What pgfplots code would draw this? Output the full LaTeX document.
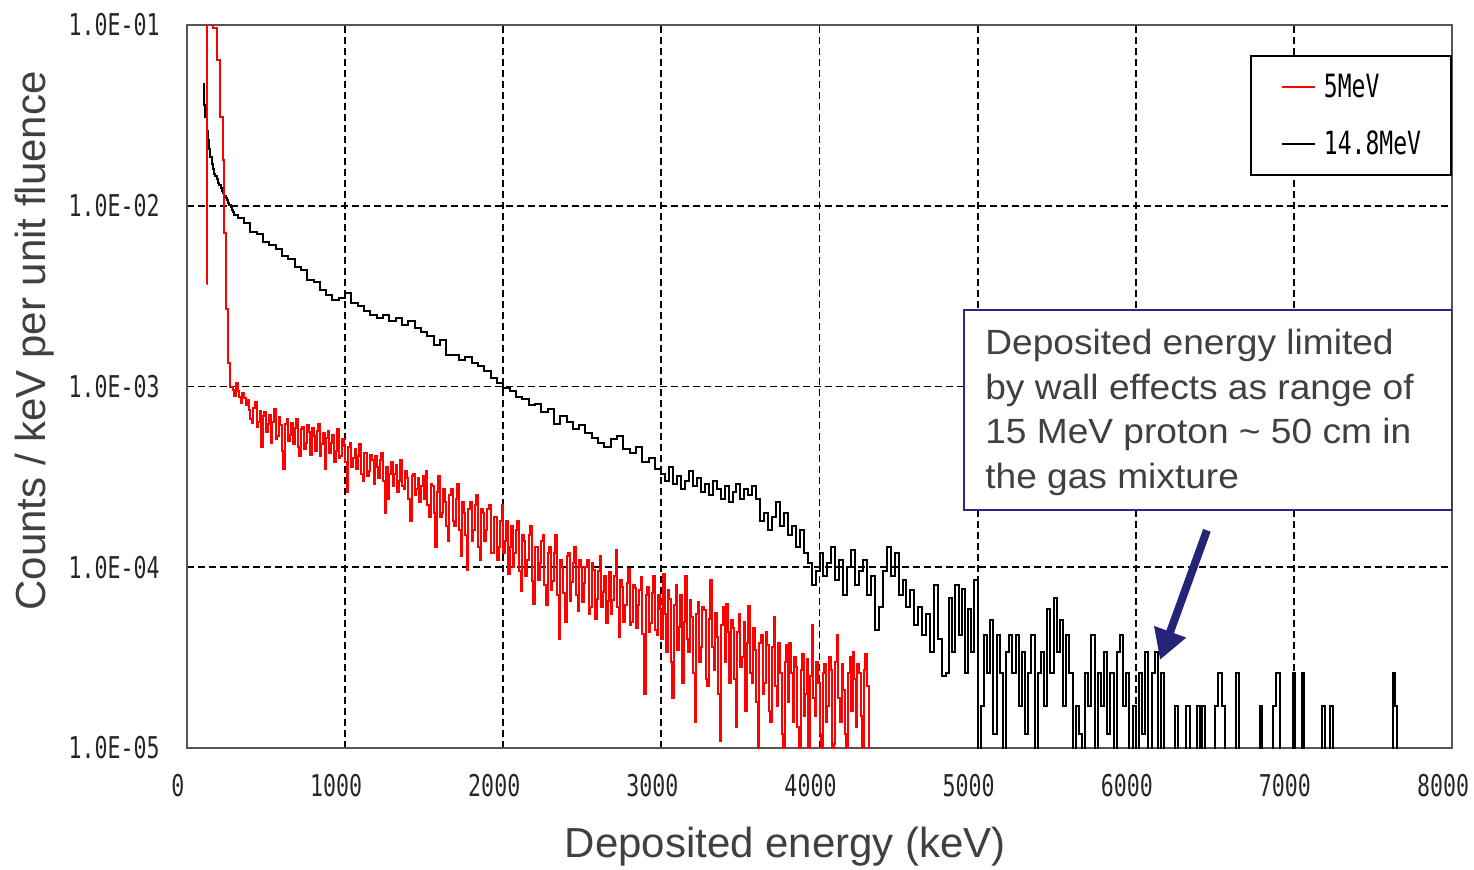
\documentclass[border=0pt]{standalone}
\usepackage{fontspec}
\setmainfont{Liberation Sans}
\newfontfamily\tickfont[FakeStretch=0.72]{DejaVu Sans Mono}
\newfontfamily\notefont[FakeStretch=1.06]{Liberation Sans}
\usepackage{pgfplots}
\usepackage{pgfplotstable}
\pgfplotsset{compat=1.18}
\usetikzlibrary{arrows.meta}

\definecolor{labelgray}{RGB}{64,64,64}
\definecolor{notenavy}{RGB}{40,40,128}
\definecolor{arrownavy}{RGB}{38,36,120}
\definecolor{framegray}{RGB}{85,85,85}

% 14.8 MeV spectrum (1e-7 = empty bin, drawn to the floor)
\pgfplotstableread{
x y
101 0.047
108 0.036
116 0.031
124 0.026
132 0.023
140 0.0205
148 0.0185
156 0.0170
164 0.0160
172 0.0150
180 0.0146
188 0.0140
196 0.0134
204 0.0131
212 0.0126
220 0.0121
228 0.0117
236 0.0113
244 0.0110
252 0.0107
260 0.0104
268 0.0101
276 0.0098
284 0.0095
292 0.0092
300 0.0089
320 0.0086
360 0.0080
400 0.0072
440 0.0070
480 0.0063
520 0.0061
560 0.0058
600 0.0053
640 0.0051
680 0.0046
720 0.0044
760 0.0039
800 0.0038
840 0.0034
880 0.0032
920 0.0030
960 0.0031
1000 0.0033
1040 0.0029
1080 0.0028
1120 0.0026
1160 0.0025
1200 0.0024
1240 0.0025
1280 0.0023
1320 0.0024
1360 0.0022
1400 0.0023
1440 0.0021
1480 0.0020
1520 0.0019
1560 0.0017
1600 0.0018
1640 0.0015
1680 0.0015
1720 0.0014
1760 0.00145
1800 0.00135
1840 0.0013
1880 0.00122
1920 0.00112
1960 0.00105
2000 0.00098
2040 0.00094
2080 0.00088
2120 0.00085
2160 0.00079
2200 0.00080
2240 0.00072
2280 0.00075
2320 0.00062
2360 0.00069
2400 0.00064
2440 0.00058
2480 0.00061
2520 0.00055
2560 0.00052
2600 0.00049
2640 0.00046
2680 0.00051
2720 0.00053
2760 0.00045
2800 0.00043
2840 0.00046
2880 0.00038
2920 0.00040
2960 0.00035
3000 0.00033
3025 0.00030
3050 0.00036
3075 0.00029
3100 0.00032
3125 0.00027
3150 0.00030
3175 0.00034
3200 0.00028
3225 0.00031
3250 0.00026
3275 0.00029
3300 0.00025
3325 0.00030
3350 0.00027
3375 0.00024
3400 0.00028
3425 0.00023
3450 0.00026
3475 0.00029
3500 0.00024
3525 0.00027
3550 0.00025
3575 0.00028
3600 0.00024
3625 0.00018
3650 0.00020
3675 0.00016
3700 0.00019
3725 0.00023
3750 0.00017
3775 0.00020
3800 0.00015
3825 0.00017
3850 0.00013
3875 0.00016
3900 0.00012
3925 0.000105
3950 0.00008
3975 0.000095
4000 0.00012
4025 0.00009
4050 0.000105
4075 0.00013
4100 0.000085
4125 0.00011
4150 0.00007
4175 0.00010
4200 0.000125
4225 0.00008
4250 0.000095
4275 0.00011
4300 0.00007
4325 0.00009
4350 0.000045
4375 0.00006
4400 0.000095
4425 0.00013
4450 0.00009
4475 0.00012
4500 0.00007
4525 0.000085
4550 0.00006
4575 0.000075
4600 0.000048
4625 0.00006
4650 0.000042
4675 0.000055
4700 0.000034
4725 0.00008
4750 0.00004
4775 0.000025
4800 2.6e-5
4820 6.8e-5
4840 3.4e-5
4860 8.0e-5
4880 4.2e-5
4900 7.6e-5
4920 2.6e-5
4940 5.9e-5
4960 3.4e-5
4980 8.5e-5
5000 1e-7
5020 1.7e-5
5040 4.2e-5
5060 2.6e-5
5080 5.1e-5
5100 1.2e-5
5120 4.2e-5
5140 2.6e-5
5160 1e-7
5180 3.4e-5
5200 4.2e-5
5220 2.6e-5
5240 4.2e-5
5260 1.7e-5
5280 3.4e-5
5300 1.2e-5
5320 2.6e-5
5340 4.2e-5
5360 1e-7
5380 2.6e-5
5400 3.4e-5
5420 1.7e-5
5440 5.9e-5
5460 2.6e-5
5480 6.8e-5
5500 3.4e-5
5520 5.1e-5
5540 1.7e-5
5560 4.2e-5
5580 2.6e-5
5600 1e-7
5620 1.7e-5
5640 1.2e-5
5660 1e-7
5680 2.6e-5
5700 1.7e-5
5720 4.2e-5
5740 1e-7
5760 2.6e-5
5780 1.7e-5
5800 3.4e-5
5820 1.2e-5
5840 2.6e-5
5860 1e-7
5880 3.4e-5
5900 4.2e-5
5920 1.7e-5
5940 2.6e-5
5960 1e-7
5980 1.7e-5
6000 1e-7
6020 2.6e-5
6040 1.2e-5
6060 3.4e-5
6080 1e-7
6100 2.6e-5
6120 3.4e-5
6140 1e-7
6160 2.6e-5
6180 1e-7
6250 1.7e-5
6270 1e-7
6320 1.7e-5
6345 1e-7
6390 1.7e-5
6405 1e-7
6420 1.7e-5
6435 1e-7
6500 1.7e-5
6520 2.6e-5
6545 1.7e-5
6565 1e-7
6635 2.6e-5
6650 1e-7
6785 1.7e-5
6800 1e-7
6870 1.7e-5
6890 2.6e-5
6910 1e-7
6995 2.6e-5
7010 1e-7
7050 2.6e-5
7065 1e-7
7180 1.7e-5
7195 1e-7
7230 1.7e-5
7250 1e-7
7625 2.6e-5
7640 1.7e-5
7655 1e-7
}\blackdata

% 5 MeV spectrum, 10 keV bins above 290 keV
\pgfplotstableread{
x y
124 0.0037
125 0.5
166 0.096
188 0.064
209 0.031
226 0.018
236 0.0071
247 0.0027
261 0.00135
272 0.00100
290 9.6e-4
300 8.9e-4
310 1.05e-3
320 9.4e-4
330 8.8e-4
340 8.1e-4
350 9.2e-4
360 8.6e-4
370 7.9e-4
380 8.4e-4
390 7.4e-4
400 6.6e-4
410 6.3e-4
420 7.6e-4
430 8.2e-4
440 6.0e-4
450 6.4e-4
460 7.3e-4
470 4.6e-4
480 6.9e-4
490 7.2e-4
500 5.6e-4
510 6.2e-4
520 7.0e-4
530 4.9e-4
540 6.4e-4
550 7.5e-4
560 5.1e-4
570 5.3e-4
580 6.8e-4
590 6.1e-4
600 4.4e-4
610 3.5e-4
620 6.2e-4
630 6.6e-4
640 5.0e-4
650 5.4e-4
660 6.3e-4
670 4.8e-4
680 5.9e-4
690 6.6e-4
700 4.6e-4
710 4.1e-4
720 5.8e-4
730 6.0e-4
740 4.5e-4
750 4.9e-4
760 6.1e-4
770 5.6e-4
780 4.2e-4
790 5.9e-4
800 5.3e-4
810 4.4e-4
820 5.7e-4
830 6.2e-4
840 4.1e-4
850 4.8e-4
860 5.5e-4
870 3.5e-4
880 5.2e-4
890 5.7e-4
900 4.3e-4
910 4.9e-4
920 5.4e-4
930 3.8e-4
940 4.4e-4
950 5.8e-4
960 4.0e-4
970 4.1e-4
980 5.1e-4
990 4.7e-4
1000 3.8e-4
1010 2.6e-4
1020 4.6e-4
1030 4.9e-4
1040 3.6e-4
1050 4.0e-4
1060 4.5e-4
1070 3.5e-4
1080 4.1e-4
1090 4.8e-4
1100 3.3e-4
1110 3.0e-4
1120 4.3e-4
1130 4.3e-4
1140 3.2e-4
1150 3.4e-4
1160 4.2e-4
1170 3.9e-4
1180 2.9e-4
1190 4.1e-4
1200 3.6e-4
1210 3.1e-4
1220 3.9e-4
1230 4.3e-4
1240 3.0e-4
1250 2.0e-4
1260 3.6e-4
1270 2.4e-4
1280 3.3e-4
1290 3.8e-4
1300 2.8e-4
1310 3.3e-4
1320 3.7e-4
1330 2.6e-4
1340 3.0e-4
1350 3.9e-4
1360 2.8e-4
1370 2.7e-4
1380 3.4e-4
1390 3.1e-4
1400 2.4e-4
1410 1.8e-4
1420 3.2e-4
1430 3.3e-4
1440 2.5e-4
1450 2.7e-4
1460 3.1e-4
1470 2.3e-4
1480 2.8e-4
1490 3.2e-4
1500 2.4e-4
1510 3.4e-4
1520 2.2e-4
1530 1.9e-4
1540 2.9e-4
1550 2.8e-4
1560 2.0e-4
1570 1.3e-4
1580 2.6e-4
1590 3.2e-4
1600 1.9e-4
1610 2.0e-4
1620 2.7e-4
1630 2.3e-4
1640 1.7e-4
1650 1.4e-4
1660 2.5e-4
1670 2.7e-4
1680 1.8e-4
1690 1.7e-4
1700 2.4e-4
1710 2.9e-4
1720 1.6e-4
1730 1.15e-4
1740 2.3e-4
1750 2.0e-4
1760 1.5e-4
1770 9.7e-5
1780 2.1e-4
1790 2.3e-4
1800 1.4e-4
1810 1.6e-4
1820 2.2e-4
1830 2.5e-4
1840 1.3e-4
1850 1.1e-4
1860 2.1e-4
1870 2.0e-4
1880 1.4e-4
1890 1.6e-4
1900 2.1e-4
1910 2.2e-4
1920 1.2e-4
1930 1.2e-4
1940 1.9e-4
1950 1.9e-4
1960 1.1e-4
1970 1.3e-4
1980 1.8e-4
1990 2.2e-4
2000 1.2e-4
2010 1.4e-4
2020 1.8e-4
2030 9.2e-5
2040 1.3e-4
2050 1.7e-4
2060 1.0e-4
2070 1.2e-4
2080 1.6e-4
2090 1.8e-4
2100 9.5e-5
2110 7.4e-5
2120 1.5e-4
2130 1.4e-4
2140 9.0e-5
2150 1.1e-4
2160 1.5e-4
2170 1.7e-4
2180 8.4e-5
2190 6.3e-5
2200 1.3e-4
2210 1.3e-4
2220 8.5e-5
2230 1.05e-4
2240 1.4e-4
2250 1.5e-4
2260 8.0e-5
2270 6.2e-5
2280 1.2e-4
2290 1.3e-4
2300 7.5e-5
2310 8.4e-5
2320 1.2e-4
2330 1.5e-4
2340 7.0e-5
2350 4.0e-5
2360 1.1e-4
2370 1.0e-4
2380 7.2e-5
2390 5.0e-5
2400 1.15e-4
2410 1.2e-4
2420 6.5e-5
2430 8.3e-5
2440 1.05e-4
2450 1.3e-4
2460 7.0e-5
2470 5.7e-5
2480 1.1e-4
2490 1.0e-4
2500 6.4e-5
2510 8.2e-5
2520 1.0e-4
2530 1.1e-4
2540 5.5e-5
2550 6.0e-5
2560 1.05e-4
2570 9.7e-5
2580 5.2e-5
2590 6.7e-5
2600 9.5e-5
2610 1.15e-4
2620 6.0e-5
2630 7.3e-5
2640 9.0e-5
2650 4.9e-5
2660 6.5e-5
2670 9.4e-5
2680 5.5e-5
2690 6.6e-5
2700 9.0e-5
2710 1.25e-4
2720 6.0e-5
2730 4.1e-5
2740 8.5e-5
2750 7.8e-5
2760 5.0e-5
2770 6.2e-5
2780 8.2e-5
2790 9.8e-5
2800 4.8e-5
2810 5.0e-5
2820 8.0e-5
2830 7.7e-5
2840 4.6e-5
2850 6.2e-5
2860 7.5e-5
2870 8.8e-5
2880 4.3e-5
2890 2.0e-5
2900 7.0e-5
2910 7.8e-5
2920 4.4e-5
2930 4.9e-5
2940 7.2e-5
2950 8.9e-5
2960 4.5e-5
2970 4.2e-5
2980 7.0e-5
2990 5.9e-5
3000 4.0e-5
3010 9.2e-5
3020 5.5e-5
3030 3.4e-5
3040 7.5e-5
3050 6.7e-5
3060 3.0e-5
3070 1.9e-5
3080 6.2e-5
3090 8.0e-5
3100 3.5e-5
3110 4.7e-5
3120 7.0e-5
3130 2.3e-5
3140 5.0e-5
3150 9.0e-5
3160 4.0e-5
3170 3.4e-5
3180 6.6e-5
3190 5.3e-5
3200 2.6e-5
3210 1.4e-5
3220 5.5e-5
3230 6.4e-5
3240 3.0e-5
3250 3.6e-5
3260 6.0e-5
3270 5.8e-5
3280 2.4e-5
3290 2.2e-5
3300 5.2e-5
3310 8.5e-5
3320 3.6e-5
3330 2.7e-5
3340 5.6e-5
3350 4.1e-5
3360 2.0e-5
3370 1.1e-5
3380 4.8e-5
3390 6.0e-5
3400 3.0e-5
3410 6.3e-5
3420 4.4e-5
3430 2.3e-5
3440 5.1e-5
3450 4.6e-5
3460 2.4e-5
3470 1.3e-5
3480 4.4e-5
3490 5.5e-5
3500 2.8e-5
3510 3.2e-5
3520 5.0e-5
3530 1.6e-5
3540 3.8e-5
3550 6.1e-5
3560 2.6e-5
3570 2.3e-5
3580 4.6e-5
3590 3.5e-5
3600 1.8e-5
3610 1e-7
3620 3.8e-5
3630 4.2e-5
3640 2.0e-5
3650 2.3e-5
3660 4.4e-5
3670 3.7e-5
3680 1.6e-5
3690 1.4e-5
3700 3.6e-5
3710 5.3e-5
3720 2.2e-5
3730 1.7e-5
3740 3.8e-5
3750 2.6e-5
3760 1.2e-5
3770 1e-7
3780 3.0e-5
3790 3.7e-5
3800 1.8e-5
3810 3.8e-5
3820 2.6e-5
3830 1.4e-5
3840 3.2e-5
3850 2.8e-5
3860 1.3e-5
3870 1e-7
3880 2.7e-5
3890 3.3e-5
3900 1.5e-5
3910 2.0e-5
3920 3.1e-5
3930 1e-7
3940 2.5e-5
3950 4.8e-5
3960 1.9e-5
3970 1.5e-5
3980 3.0e-5
3990 2.3e-5
4000 1.2e-5
4010 1e-7
4020 2.6e-5
4030 2.9e-5
4040 1.4e-5
4050 1.7e-5
4060 3.2e-5
4070 2.7e-5
4080 1e-7
4090 1.05e-5
4100 3.0e-5
4110 4.2e-5
4120 1.9e-5
4130 1.4e-5
4140 2.9e-5
4150 2.1e-5
4160 1.2e-5
4170 1e-7
4180 2.6e-5
4190 3.2e-5
4200 1.6e-5
4210 3.4e-5
4220 2.4e-5
4230 1.3e-5
4240 2.9e-5
4250 2.6e-5
4260 1.5e-5
4270 1e-7
4280 2.7e-5
4290 3.3e-5
4300 2.2e-5
4310 1e-7
}\reddata

\begin{document}
\begin{tikzpicture}
\begin{axis}[
  scale only axis,
  width=632.5pt, height=361.5pt,
  xmin=0, xmax=8000,
  ymode=log, ymin=1e-5, ymax=1e-1,
  xtick={0,1000,2000,3000,4000,5000,6000,7000,8000},
  xticklabels={0,1000,2000,3000,4000,5000,6000,7000,8000},
  ytick={1e-5,1e-4,1e-3,1e-2,1e-1},
  yticklabels={1.0E-05,1.0E-04,1.0E-03,1.0E-02,1.0E-01},
  minor tick num=0,
  major tick length=0pt, minor tick length=0pt,
  tick style={draw=none},
  xmajorgrids, ymajorgrids,
  major grid style={black, line width=0.9pt, dash pattern=on 3.5pt off 2pt},
  axis line style={framegray, line width=1.2pt},
  tick label style={font=\tickfont\fontsize{15}{15}\selectfont, text=black!85},
  xticklabel style={anchor=north, inner sep=0pt, yshift=-13pt, xshift=-4.5pt},
  yticklabel style={anchor=east, inner sep=0pt, xshift=-13.5pt},
  xlabel={Deposited energy (keV)},
  ylabel={Counts / keV per unit fluence},
  label style={font=\fontsize{21}{21}\selectfont, text=labelgray},
  xlabel style={at={(axis description cs:0.473,-0.1369)}, anchor=center},
  ylabel style={at={(axis description cs:-0.12016,0.563)}, anchor=center},
  reverse legend,
  legend cell align=left,
  legend style={at={(rel axis cs:1,0.9585)}, anchor=north east,
    draw=black, line width=1pt, fill=white,
    inner xsep=15pt, inner ysep=9pt, row sep=15pt,
    nodes={inner sep=0pt},
    font=\tickfont\fontsize{16}{16}\selectfont,
    /tikz/every odd column/.append style={column sep=4pt}},
  legend image code/.code={\draw[#1, line width=1pt] (0pt,0pt) -- (16.5pt,0pt);},
]
\addplot[black, line width=1pt, const plot] table[x=x, y=y] {\blackdata};
\addlegendentry{14.8MeV}
\addplot[red, line width=1pt, const plot] table[x=x, y=y] {\reddata};
\addlegendentry{5MeV}
\addplot[red, line width=1pt, forget plot] coordinates {(0,9.3e-4) (8,9.3e-4)};

\draw[notenavy, line width=1pt, fill=white]
  (rel axis cs:0.6142,0.3292) rectangle (rel axis cs:1,0.6058);
\begin{scope}[every node/.style={anchor=base west, inner sep=0pt,
    font=\notefont\fontsize{17.5}{17.5}\selectfont, text=labelgray}]
\node at ([xshift=10.5pt]rel axis cs:0.6142,0.5436) {Deposited energy limited};
\node at ([xshift=10.5pt]rel axis cs:0.6142,0.4820) {by wall effects as range of};
\node at ([xshift=10.5pt]rel axis cs:0.6142,0.4205) {15 MeV proton \textasciitilde{} 50 cm in};
\node at ([xshift=10.5pt]rel axis cs:0.6142,0.3589) {the gas mixture};
\end{scope}
\draw[arrownavy, line width=4pt, -{Triangle[length=15pt, width=16pt]}]
  (axis cs:6450,1.6e-4) -- (axis cs:6153,3.07e-5);
\end{axis}
\pgfresetboundingbox
\path[use as bounding box]
  ([shift={(-93.5pt,-61pt)}]current axis.south west)
  rectangle ([shift={(11pt,12.5pt)}]current axis.north east);
\end{tikzpicture}
\end{document}
